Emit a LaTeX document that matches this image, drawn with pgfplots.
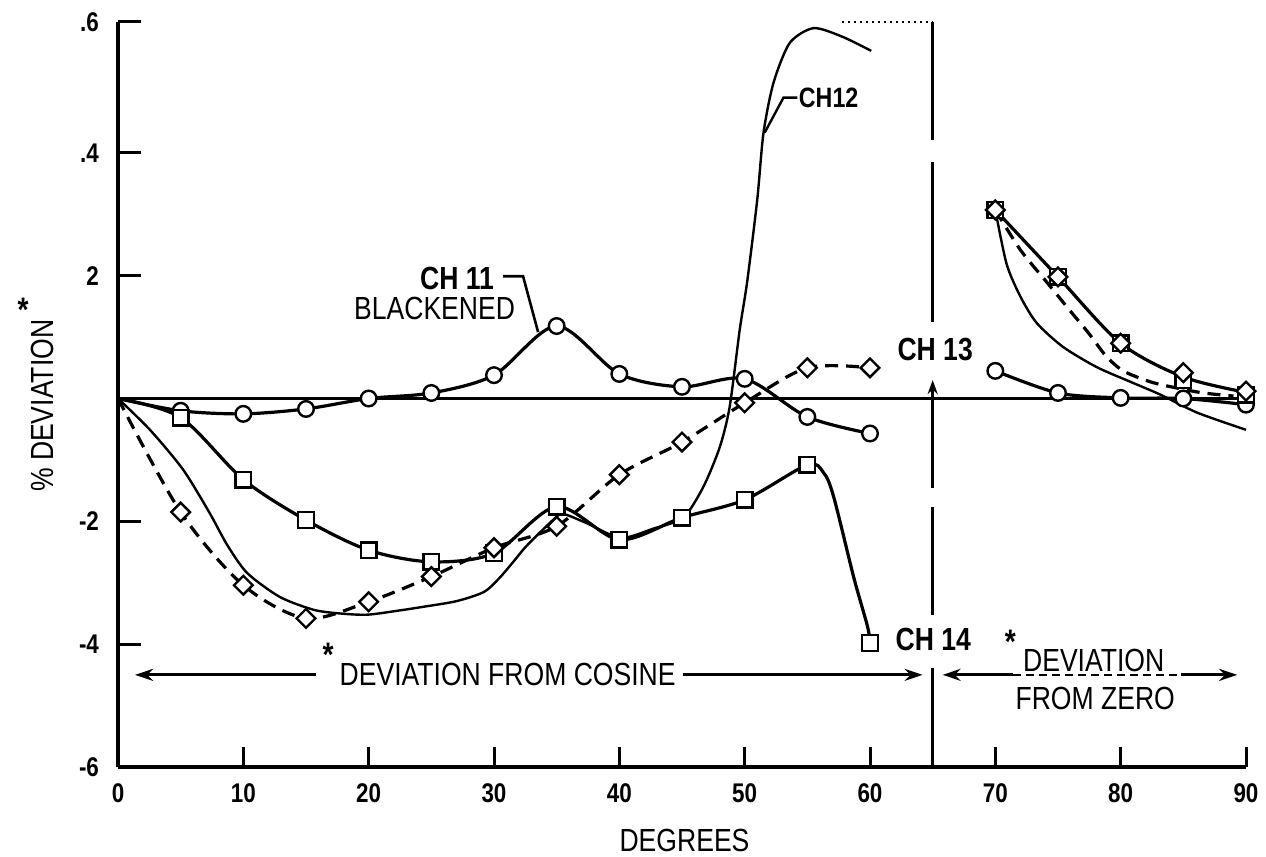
\documentclass[border=0pt]{standalone}
\usepackage{pgfplots}
\pgfplotsset{compat=1.18}
\usepackage{fontspec}
\setmainfont{Liberation Sans}[FakeStretch=0.83]
\usetikzlibrary{arrows.meta}

\newcommand\lab{\fontsize{16}{19}\selectfont}
\newcommand\chlab{\fontsize{16}{19}\selectfont\bfseries}
\newcommand\astmark{{\fontsize{17}{19}\selectfont\bfseries *}}

\begin{document}
\begin{tikzpicture}
\useasboundingbox (-59pt,-45pt) rectangle (574pt,383.5pt);
\begin{axis}[
  name=main,
  at={(0,0)}, anchor=south west,
  scale only axis, width=564pt, height=372.5pt,
  xmin=0, xmax=90, ymin=-6, ymax=6.13,
  axis x line=bottom, axis y line=left,
  axis line style={line width=1.6pt, -},
  major tick length=0pt,
  xtick={0,10,...,90}, xticklabels={0,10,20,30,40,50,60,70,80,90},
  ytick={-6,-4,-2,2,4,6.13}, yticklabels={-6,-4,-2,2,.4,.6},
  ticklabel style={font=\fontsize{13.5}{15}\selectfont\bfseries},
  xticklabel style={yshift=-5pt},
  yticklabel style={xshift=-6pt},
  clip=false,
]

% reference line at zero deviation
\addplot[line width=1.4pt] coordinates {(0,0) (90,0)};

% CH 12 (no symbols)
\addplot[line width=1.2pt, smooth, tension=0.45] coordinates {
 (0,0) (2.55,-0.51) (5.2,-1.16) (7.3,-1.86) (8.7,-2.38) (10.3,-2.84)
 (12.9,-3.23) (15.6,-3.44) (17.7,-3.5) (19.9,-3.52) (22.5,-3.45)
 (24.1,-3.40) (27,-3.3) (29.2,-3.15) (30.4,-2.93) (31.5,-2.67)
 (32.6,-2.4) (34.7,-1.98) (35.5,-1.88) (37.4,-2.03) (40.1,-2.27)
 (42.7,-2.12) (45.1,-1.94) (46.7,-1.44) (48,-0.8) (48.8,-0.14)
 (49.6,1.11) (50.2,1.9) (51,3.23) (51.5,4.32) (52.3,5.14) (53.6,5.79)
 (55.5,6.03) (57.8,5.89) (60.1,5.66)};
\addplot[line width=1.2pt, smooth, tension=0.45] coordinates {
 (70,3.07) (70.9,2.19) (72,1.66) (73.3,1.23) (75.4,0.84) (78.1,0.51)
 (80.8,0.27) (83.2,0.06) (86.1,-0.23) (90,-0.51)};

% CH 11 blackened (circles)
\addplot[line width=1.6pt, smooth, tension=0.5] coordinates {
 (0,0) (5,-0.2) (10,-0.25) (15,-0.17) (20,0.0) (25,0.09) (30,0.38)
 (35,1.18) (40,0.40) (45,0.19) (50,0.32) (55,-0.30) (60,-0.57)};
\addplot[line width=1.6pt, smooth, tension=0.5] coordinates {
 (70,0.45) (75,0.09) (80,0.01) (85,0.0) (90,-0.1)};

% CH 13 (diamonds, dashed)
\addplot[line width=1.6pt, smooth, tension=0.5, dash pattern=on 6.5pt off 4pt] coordinates {
 (0,0) (5,-1.85) (10,-3.04) (15,-3.58) (20,-3.31) (25,-2.9) (30,-2.43)
 (35,-2.08) (40,-1.24) (45,-0.71) (50,-0.07) (55,0.50) (60,0.50)};
\addplot[line width=1.6pt, smooth, tension=0.5, dash pattern=on 6.5pt off 4pt] coordinates {
 (70,3.07) (72,2.42) (74,1.92) (76,1.42) (77.5,1.05) (78.8,0.7)
 (80.2,0.45) (82.4,0.27) (84.5,0.17) (86.6,0.09) (89,0.04)};

% CH 14 (squares)
\addplot[line width=1.6pt, smooth, tension=0.5] coordinates {
 (0,0) (5,-0.31) (10,-1.32) (15,-1.98) (20,-2.47) (25,-2.66) (30,-2.52)
 (35,-1.76) (40,-2.3) (45,-1.94) (50,-1.65) (55,-1.08) (56.3,-1.21)
 (57.1,-1.6) (58.7,-2.91) (59.8,-3.71) (60,-3.98)};
\addplot[line width=1.6pt, smooth, tension=0.5] coordinates {
 (70,3.07) (75,1.98) (80,0.9) (85,0.35) (90,0.1)};

% symbols
\addplot[only marks, mark=*, mark size=3.9pt, mark options={fill=white, line width=1.2pt}] coordinates {
 (5,-0.2) (10,-0.25) (15,-0.17) (20,0.0) (25,0.09) (30,0.38) (35,1.18)
 (40,0.40) (45,0.19) (50,0.32) (55,-0.30) (60,-0.57)
 (70,0.45) (75,0.09) (80,0.01) (85,0.0) (90,-0.1)};
\addplot[only marks, mark=square*, mark size=3.9pt, mark options={fill=white, line width=1.2pt}] coordinates {
 (5,-0.31) (10,-1.32) (15,-1.98) (20,-2.47) (25,-2.66) (30,-2.52)
 (35,-1.76) (40,-2.3) (45,-1.94) (50,-1.65) (55,-1.08) (60,-3.98)
 (70,3.07) (75,1.98) (80,0.9) (85,0.3) (90,0.06)};
\addplot[only marks, mark=square*, mark size=3.3pt, mark options={fill=white, line width=1.2pt, rotate=45}] coordinates {
 (5,-1.85) (10,-3.04) (15,-3.58) (20,-3.31) (25,-2.9) (30,-2.43)
 (35,-2.08) (40,-1.24) (45,-0.71) (50,-0.07) (55,0.50) (60,0.50)
 (70,3.07) (75,1.98) (80,0.9) (85,0.42) (90,0.12)};

% boundary between the two regions
\draw[line width=1.6pt] (axis cs:65,6.13) -- (axis cs:65,4.21);
\draw[line width=1.6pt] (axis cs:65,3.85) -- (axis cs:65,1.24);
\draw[line width=1.4pt, -{Stealth[length=7pt,width=5pt]}] (axis cs:65,0) -- (axis cs:65,0.3);
\draw[line width=1.6pt] (axis cs:65,0) -- (axis cs:65,-1.46);
\draw[line width=1.6pt] (axis cs:65,-1.77) -- (axis cs:65,-3.53);
\draw[line width=1.6pt] (axis cs:65,-4.38) -- (axis cs:65,-6);
\draw[line width=1pt, dotted] (axis cs:57.8,6.13) -- (axis cs:65,6.13);

% curve labels
\node[font=\chlab] at (axis cs:27.05,1.96) {CH 11};
\node[font=\lab] at (axis cs:25.26,1.46) {BLACKENED};
\draw[line width=1.3pt] (axis cs:30.73,1.99) -- (axis cs:32.32,1.99) -- (axis cs:33.52,1.08);
\node[font=\fontsize{14}{16}\selectfont\bfseries, anchor=west, inner sep=0pt] at (axis cs:54.3,4.9) {CH12};
\draw[line width=1.2pt] (axis cs:54.2,4.9) -- (axis cs:53.1,4.9) -- (axis cs:51.6,4.33);
\node[font=\chlab] at (axis cs:65.2,0.79) {CH 13};
\node[font=\chlab] at (axis cs:65.05,-3.93) {CH 14};

% region annotations
\node[font=\lab] at (axis cs:31.09,-4.5) {DEVIATION FROM COSINE};
\node at (axis cs:16.76,-4.18) {\astmark};
\draw[line width=1.4pt, -{Stealth[length=9pt,width=6pt]}] (axis cs:15.8,-4.5) -- (axis cs:1.36,-4.5);
\draw[line width=1.4pt, -{Stealth[length=9pt,width=6pt]}] (axis cs:45.1,-4.5) -- (axis cs:64.2,-4.5);

\node[font=\lab] at (axis cs:77.85,-4.26) {DEVIATION};
\node[font=\lab] at (axis cs:77.97,-4.89) {FROM ZERO};
\node at (axis cs:71.19,-3.96) {\astmark};
\draw[line width=1.4pt, -{Stealth[length=9pt,width=6pt]}] (axis cs:71.4,-4.5) -- (axis cs:65.8,-4.5);
\draw[line width=1pt, dash pattern=on 4pt off 2.5pt] (axis cs:71.4,-4.5) -- (axis cs:84.8,-4.5);
\draw[line width=1.4pt, -{Stealth[length=9pt,width=6pt]}] (axis cs:84.8,-4.5) -- (axis cs:89.3,-4.5);

% axis titles
\node[font=\lab] at (axis cs:45.2,-7.19) {DEGREES};
\node[font=\lab, rotate=90] at (axis cs:-5.99,-0.12) {\% DEVIATION};
\node at (axis cs:-7.58,1.44) {\astmark};
\end{axis}

% inward tick marks (axis box: 564pt x 372.5pt, x 0..90, y -6..6.13)
\foreach \k in {1,...,9}
  \draw[line width=1.5pt, line cap=butt] (\k*62.6667pt,0pt) -- ++(0pt,10pt);
\foreach \v in {-4,-2,2,4,6.13}
  \draw[line width=1.5pt, line cap=butt] (0pt,{(\v+6)*30.7090pt}) -- ++(11.5pt,0pt);
\end{tikzpicture}
\end{document}
